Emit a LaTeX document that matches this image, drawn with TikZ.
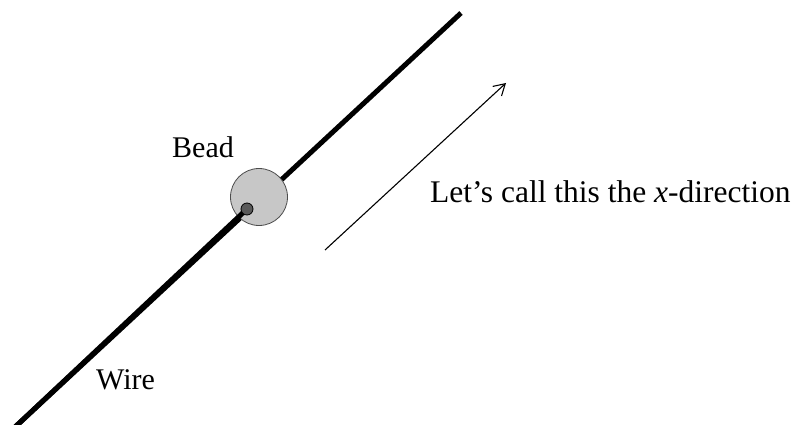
\documentclass[tikz,border=0pt]{standalone}
\usepackage{fontspec}
\setmainfont{Liberation Serif}
\usetikzlibrary{arrows.meta}
\begin{document}
\begin{tikzpicture}[x=1pt,y=-1pt,
  wire/.style={line width=5pt},
  label/.style={font=\fontsize{30}{36}\selectfont, inner sep=0pt, anchor=base west},
  beadnode/.style={circle, draw=black!70, line width=0.8pt, fill=black!22, minimum size=57pt, inner sep=0pt},
  holenode/.style={circle, draw=black, line width=0.8pt, fill=black!65, minimum size=12pt, inner sep=0pt},
  dirarrow/.style={line width=1.1pt, -{Straight Barb[length=11pt,width=13pt,line width=1.1pt]}}]
\useasboundingbox (0,0) rectangle (793,425);
\coordinate (wtop) at (461,13);
\coordinate (wbot) at (14,428);
\draw[wire] (wbot) -- (wtop);
\node[beadnode] (bead) at (259,197) {};
\coordinate (hc) at (247,209);
\draw[wire] (wbot) -- (hc);
\node[holenode] (hole) at (hc) {};
\coordinate (astart) at (325,250);
\coordinate (aend) at (506,83);
\draw[dirarrow] (astart) -- (aend);
\node[label] (beadlbl) at (172,158) {Bead};
\node[label] (wirelbl) at (96,389) {Wire};
\node[label, font=\fontsize{31.5}{36}\selectfont] (xlbl) at (430,203) {Let’s call this the \textit{x}-direction};
\end{tikzpicture}
\end{document}
